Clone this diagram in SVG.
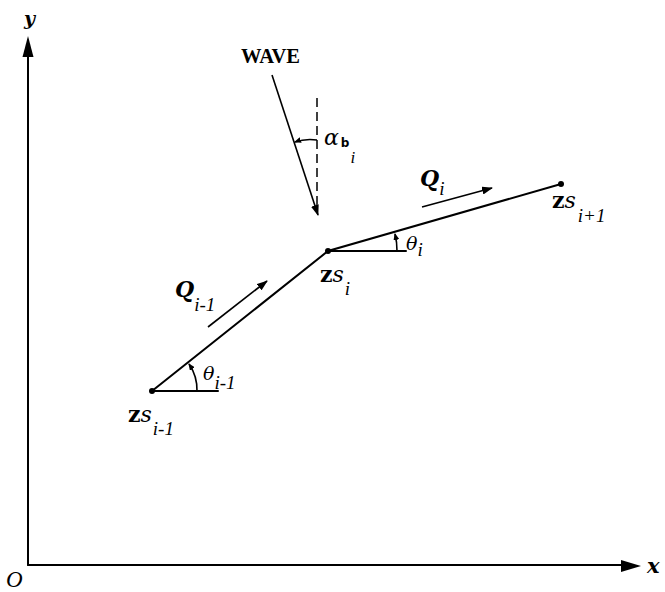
<svg xmlns="http://www.w3.org/2000/svg" width="665" height="592" viewBox="0 0 665 592">
<style>
.ln{stroke:#000;stroke-width:2;fill:none;stroke-linecap:round}
.thin{stroke:#000;stroke-width:1.6;fill:none}
.t{font-family:"DejaVu Serif","Liberation Serif",serif;fill:#000}
.bi{font-weight:bold;font-style:italic}
.it{font-style:italic}
.b{font-weight:bold}
.sub{font-family:"Liberation Serif",serif;font-style:italic;font-size:19px}
</style>
<defs>
<marker id="ah" markerWidth="11" markerHeight="8" refX="10" refY="4" orient="auto" markerUnits="userSpaceOnUse" viewBox="0 0 11 8">
<path d="M0,0 L11,4 L0,8 Z" fill="#000"/>
</marker>
<marker id="ahs" markerWidth="7" markerHeight="6" refX="6" refY="3" orient="auto" markerUnits="userSpaceOnUse" viewBox="0 0 7 6">
<path d="M0,0 L7,3 L0,6 Z" fill="#000"/>
</marker>
</defs>
<g id="connectors">
<line class="ln" x1="28" y1="565" x2="28" y2="56"/>
<path d="M28,36 L22.5,57 L33.5,57 Z" fill="#000"/>
<line class="ln" x1="28" y1="565" x2="622" y2="565"/>
<path d="M641,566 L621,560 L621,572 Z" fill="#000"/>
<polyline class="ln" points="152,391 328,251 561,184"/>
<line class="ln" x1="152" y1="391" x2="218" y2="391"/>
<line class="ln" x1="328" y1="251" x2="406" y2="251"/>
<path class="thin" d="M197,391 A46,46 0 0 0 189,364" marker-end="url(#ahs)"/>
<path class="thin" d="M397,251 A69,69 0 0 0 395,234" marker-end="url(#ahs)"/>
<line class="thin" x1="208" y1="327" x2="267" y2="281" marker-end="url(#ah)"/>
<line class="thin" x1="422" y1="207" x2="492" y2="188" marker-end="url(#ah)"/>
<line class="thin" x1="272" y1="75" x2="318" y2="215" marker-end="url(#ah)"/>
<line x1="317" y1="98" x2="317" y2="212" stroke="#000" stroke-width="1.5" stroke-dasharray="9,5"/>
<path class="thin" d="M317,140 A45,45 0 0 0 295,142" marker-end="url(#ahs)"/>
</g>
<g id="node-zi-1">
<circle cx="152" cy="391" r="3" fill="#000"/>
<text class="t" x="128" y="422" font-size="22"><tspan class="b">z</tspan><tspan class="it">s</tspan><tspan class="sub" dx="1" dy="13">i-1</tspan></text>
</g>
<g id="node-zi">
<circle cx="328" cy="251" r="3" fill="#000"/>
<text class="t" x="320" y="282" font-size="22"><tspan class="b">z</tspan><tspan class="it">s</tspan><tspan class="sub" dx="1" dy="13">i</tspan></text>
</g>
<g id="node-zi1">
<circle cx="561" cy="184" r="3" fill="#000"/>
<text class="t" x="552" y="208" font-size="22"><tspan class="b">z</tspan><tspan class="it">s</tspan><tspan class="sub" dx="2" dy="14">i+1</tspan></text>
</g>
<g id="labels">
<text class="t bi" x="24" y="25" font-size="19">y</text>
<text class="t bi" x="647" y="573" font-size="21">x</text>
<text x="6" y="587" font-family="Liberation Serif,serif" font-style="italic" font-size="23">O</text>
<text x="241" y="63" font-family="Liberation Serif,serif" font-weight="bold" font-size="20.5">WAVE</text>
<text class="t" x="324" y="145" font-size="22"><tspan class="it">α</tspan><tspan font-family="DejaVu Sans,sans-serif" font-weight="bold" font-size="12" dx="2" dy="2">b</tspan><tspan class="it" font-family="Liberation Serif,serif" font-size="17" dx="1" dy="16">i</tspan></text>
<text class="t" x="175" y="297" font-size="22"><tspan class="bi">Q</tspan><tspan class="sub" dy="14">i-1</tspan></text>
<text class="t" x="420" y="186" font-size="22"><tspan class="bi">Q</tspan><tspan class="sub" dy="9">i</tspan></text>
<text class="t" x="203" y="380" font-size="19"><tspan class="it">θ</tspan><tspan class="sub" dy="9">i-1</tspan></text>
<text class="t" x="406" y="250" font-size="19"><tspan class="it">θ</tspan><tspan class="sub" dy="6">i</tspan></text>
</g>
</svg>
